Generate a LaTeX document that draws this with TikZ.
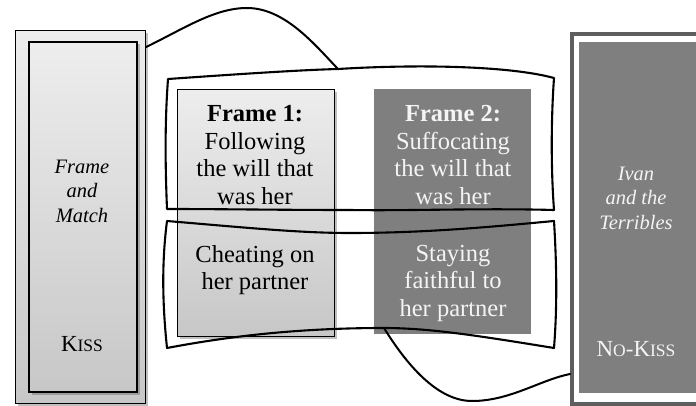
\documentclass[tikz,border=0pt]{standalone}
\usepackage{fontspec}
\setmainfont{Liberation Serif}
\usetikzlibrary{shadows}
\definecolor{boxgray}{HTML}{7F7F7F}
\definecolor{framegray}{HTML}{5E5E5E}
\definecolor{softwhite}{HTML}{F4F4F4}
% small capitals built from two sizes of the same face
\newcommand{\mycaps}[2]{#1{\fontsize{17.5}{19}\selectfont #2}}
\tikzset{
  lightbox/.style={draw=black, top color=gray!14, bottom color=gray!44,
    anchor=north west, inner sep=0pt},
  shade/.style={drop shadow={shadow xshift=2.5pt, shadow yshift=-2.5pt, opacity=0.35, fill=black!70}},
  darkbox/.style={fill=boxgray, draw=none, anchor=north west, inner sep=0pt},
  maintext/.style={align=center, font=\fontsize{24.5}{27.5}\selectfont, inner sep=0pt},
  sidetext/.style={align=center, font=\fontsize{20.5}{24.5}\selectfont\itshape, inner sep=0pt},
  capstext/.style={font=\fontsize{23}{25}\selectfont, inner sep=0pt},
  band/.style={draw=black, line width=2.1pt, line join=round},
  link/.style={draw=black, line width=2pt, line cap=round},
}
\begin{document}
\begin{tikzpicture}[x=1pt, y=-1pt]
\useasboundingbox (0,0) rectangle (696,406);
\fill[white] (0,0) rectangle (696,406);

% left column: Frame and Match
\node[lightbox, shade, line width=1.2pt, minimum width=130pt, minimum height=373pt] (lout) at (15,30) {};
\node[lightbox, shade, line width=2pt, minimum width=108pt, minimum height=350pt] (lin) at (28,41) {};
\node[sidetext] (ltitle) at (82,191) {Frame\\and\\Match};
\node[capstext] (lkiss) at (82,344) {\mycaps{K}{ISS}};

% right column: Ivan and the Terribles
\node[draw=framegray, fill=white, line width=4pt, anchor=north west, inner sep=0pt,
      minimum width=160pt, minimum height=370pt] (rout) at (570,32) {};
\node[darkbox, minimum width=140pt, minimum height=351pt] (rin) at (579,42) {};
\node[sidetext, text=softwhite] (rtitle) at (636,198) {Ivan\\and the\\Terribles};
\node[capstext, text=softwhite] (rkiss) at (636,349) {\mycaps{N}{O}-\mycaps{K}{ISS}};

% the two frames
\node[lightbox, shade, line width=1.2pt, minimum width=157pt, minimum height=247pt] (f1) at (177,89) {};
\node[darkbox, minimum width=157pt, minimum height=245pt] (f2) at (374,89) {};

\node[maintext] (f1top) at (255,155) {\textbf{Frame 1:}\\Following\\the will that\\was her};
\node[maintext] (f1bot) at (255,270) {Cheating on\\her partner};
\node[maintext, text=softwhite] (f2top) at (453,155) {\textbf{Frame 2:}\\Suffocating\\the will that\\was her};
\node[maintext, text=softwhite] (f2bot) at (453,283) {Staying\\faithful to\\her partner};

% outline points of the two bands
\coordinate (a1) at (168,79);
\coordinate (a2) at (338,69);
\coordinate (a3) at (554,78);
\coordinate (a4) at (554,210);
\coordinate (a5) at (350,210);
\coordinate (a6) at (167,209);
\coordinate (b1) at (167,221);
\coordinate (b2) at (350,233);
\coordinate (b3) at (554,221);
\coordinate (b4) at (554,348);
\coordinate (b5) at (384,328);
\coordinate (b6) at (167,348);

% upper band: the will
\draw[band] (a1) .. controls (240,74) and (300,70) .. (a2)
  .. controls (420,64) and (510,66) .. (a3)
  .. controls (551,120) and (551,170) .. (a4)
  .. controls (480,208) and (410,211) .. (a5)
  .. controls (280,210) and (220,209) .. (a6)
  .. controls (165,160) and (165,120) .. (a1) -- cycle;

% lower band: the partner
\draw[band] (b1) .. controls (250,228) and (300,233) .. (b2)
  .. controls (430,233) and (500,226) .. (b3)
  .. controls (557,270) and (557,310) .. (b4)
  .. controls (480,336) and (430,328) .. (b5)
  .. controls (290,328) and (220,338) .. (b6)
  .. controls (162,300) and (162,260) .. (b1) -- cycle;

% links to the side columns
\draw[link] (lout.north east |- 0,47) .. controls (185,28) and (215,8) .. (247,8)
  .. controls (285,8) and (315,45) .. (a2);
\draw[link] (b5) .. controls (410,370) and (440,401) .. (472,401)
  .. controls (510,401) and (540,380) .. (rout.west |- 0,374);
\end{tikzpicture}
\end{document}
